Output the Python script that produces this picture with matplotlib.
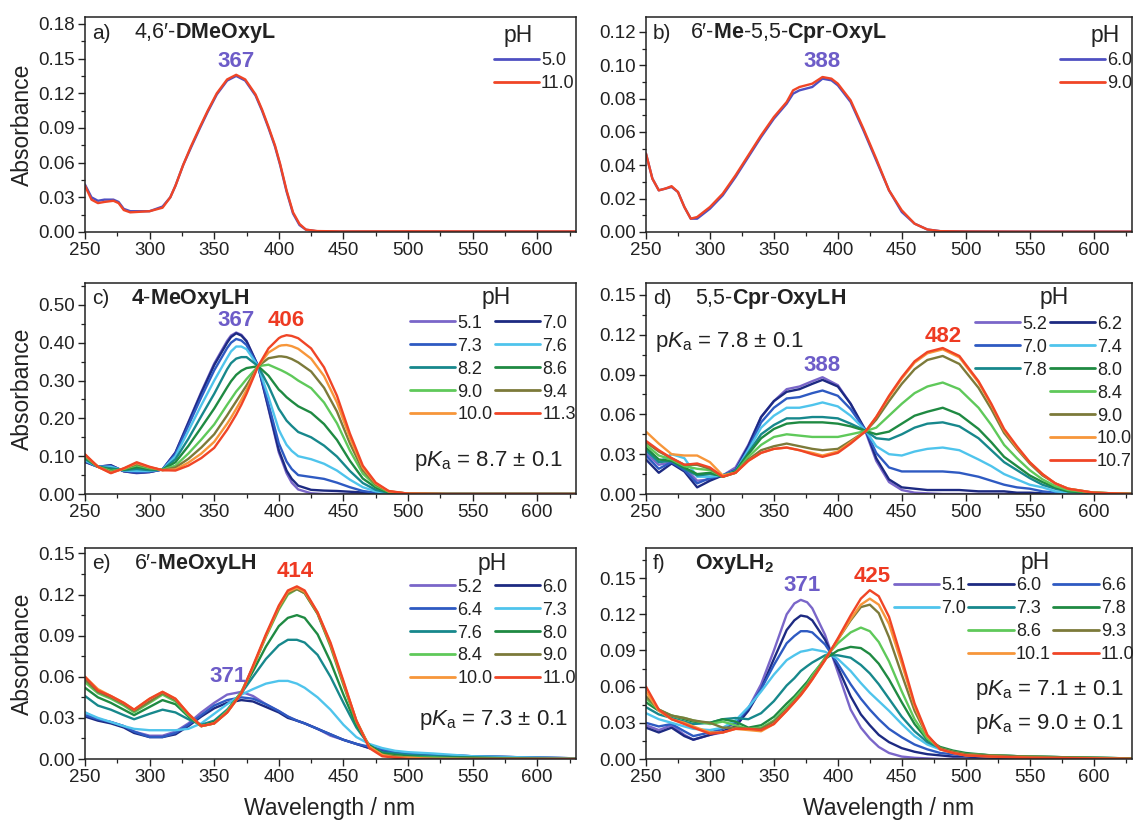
import matplotlib
matplotlib.use("Agg")
import matplotlib.pyplot as plt
from matplotlib.ticker import MultipleLocator, FormatStrFormatter
from matplotlib.lines import Line2D

plt.rcParams['font.family'] = ['Liberation Sans', 'DejaVu Sans']
plt.rcParams['mathtext.fontset'] = 'custom'
plt.rcParams['mathtext.rm'] = 'Liberation Sans'
plt.rcParams['mathtext.bf'] = 'Liberation Sans:bold'
plt.rcParams['mathtext.it'] = 'Liberation Sans:italic'
plt.rcParams['mathtext.sf'] = 'Liberation Sans'

# ---------------- data ----------------
# panel a: 4,6'-DMeOxyL
wl_a = [250, 255, 260, 265, 272, 276, 280, 285, 300, 310, 316, 320, 326, 332, 339, 345, 352, 360, 367, 374,
        382, 387, 392, 397, 401, 406, 411, 416, 421, 430, 450, 500, 550, 600, 630]
a_ph50 = [0.041, 0.030, 0.027, 0.028, 0.028, 0.026, 0.020, 0.018, 0.018, 0.022, 0.030, 0.040, 0.058, 0.073, 0.090,
          0.104, 0.119, 0.131, 0.135, 0.131, 0.118, 0.105, 0.090, 0.074, 0.058, 0.035, 0.016, 0.006, 0.002, 0.0005,
          0.0003, 0.0003, 0.0003, 0.0003, 0.0003]
a_ph110 = [0.040, 0.028, 0.025, 0.026, 0.027, 0.025, 0.019, 0.017, 0.018, 0.021, 0.030, 0.040, 0.058, 0.074, 0.091,
           0.105, 0.120, 0.132, 0.136, 0.132, 0.119, 0.106, 0.091, 0.075, 0.059, 0.036, 0.017, 0.007, 0.002, 0.0008,
           0.0005, 0.0006, 0.0005, 0.0005, 0.0005]
a_labels = ["5.0", "11.0"]

# panel b: 6'-Me-5,5-Cpr-OxyL
wl_b = [250, 255, 260, 265, 270, 275, 280, 285, 290, 300, 310, 320, 330, 340, 350, 360, 365, 370, 380, 388,
        395, 400, 410, 420, 430, 440, 450, 460, 470, 480, 500, 550, 600, 630]
b_ph60 = [0.047, 0.032, 0.025, 0.026, 0.027, 0.024, 0.015, 0.008, 0.008, 0.014, 0.022, 0.033, 0.045, 0.057, 0.068,
          0.077, 0.083, 0.085, 0.087, 0.092, 0.091, 0.088, 0.078, 0.061, 0.043, 0.025, 0.012, 0.005, 0.0015, 0.0005,
          0.0003, 0.0002, 0.0002, 0.0002]
b_ph90 = [0.047, 0.032, 0.025, 0.026, 0.0275, 0.024, 0.015, 0.008, 0.009, 0.015, 0.023, 0.034, 0.046, 0.058, 0.069,
          0.078, 0.085, 0.087, 0.089, 0.093, 0.092, 0.089, 0.079, 0.062, 0.044, 0.025, 0.013, 0.005, 0.0015, 0.0005,
          0.0003, 0.0002, 0.0002, 0.0002]
b_labels = ["6.0", "9.0"]

# panel c: 4-MeOxyLH
wl_c = [250, 260, 270, 280, 290, 300, 310, 320, 330, 340, 350, 360, 363, 367, 371, 375, 384, 392, 400, 402,
        406, 410, 415, 425, 435, 445, 455, 465, 475, 485, 500, 530, 630]
c_ph51 = [.085, .072, .076, .060, .055, .058, .065, .110, .190, .270, .345, .405, .419, .427, .421, .405, .338, .225,
          .110, .092, .055, .030, .012, .002, 0, 0, 0, 0, 0, 0, 0, 0, 0]
c_ph70 = [.085, .072, .076, .060, .056, .058, .065, .109, .188, .267, .341, .400, .415, .425, .419, .404, .338, .228,
          .116, .098, .062, .040, .022, .011, .009, .008, .006, .004, .002, .001, 0, 0, 0]
c_ph73 = [.087, .072, .074, .061, .057, .059, .065, .106, .181, .256, .327, .386, .400, .410, .406, .394, .338, .238,
          .134, .118, .086, .066, .050, .045, .040, .030, .018, .008, .003, .001, 0, 0, 0]
c_ph76 = [.089, .072, .072, .062, .061, .061, .065, .100, .167, .235, .300, .360, .377, .390, .390, .383, .338, .257,
          .170, .156, .130, .114, .100, .092, .080, .062, .038, .018, .007, .002, 0, 0, 0]
c_ph82 = [.093, .072, .068, .063, .066, .063, .064, .092, .146, .206, .265, .330, .346, .358, .362, .362, .338, .286,
          .225, .215, .194, .180, .164, .150, .128, .099, .061, .029, .011, .003, 0, 0, 0]
c_ph86 = [.096, .072, .064, .064, .071, .066, .064, .084, .127, .176, .226, .282, .298, .315, .326, .333, .338, .313,
          .276, .270, .256, .245, .232, .215, .185, .143, .088, .041, .017, .004, .001, 0, 0]
c_ph90 = [.099, .072, .061, .066, .076, .068, .064, .075, .107, .144, .184, .236, .251, .271, .287, .304, .338, .342,
          .330, .327, .320, .312, .300, .280, .242, .187, .115, .054, .022, .006, .001, 0, 0]
c_ph94 = [.102, .072, .058, .067, .079, .070, .063, .070, .093, .123, .158, .208, .224, .245, .266, .287, .338, .359,
          .364, .364, .362, .357, .348, .324, .281, .218, .134, .063, .025, .007, .001, 0, 0]
c_ph100 = [.104, .072, .056, .067, .082, .071, .063, .065, .083, .107, .138, .186, .202, .225, .249, .275, .338, .374,
           .391, .393, .394, .391, .384, .358, .312, .242, .149, .070, .028, .007, .001, 0, 0]
c_ph113 = [.105, .072, .055, .068, .084, .072, .063, .062, .075, .095, .122, .170, .187, .210, .236, .265, .338, .385,
           .412, .416, .420, .418, .412, .385, .335, .260, .160, .075, .030, .008, .001, 0, 0]
c_labels = ["5.1", "7.0", "7.3", "7.6", "8.2", "8.6", "9.0", "9.4", "10.0", "11.3"]

# panel d: 5,5-Cpr-OxyLH
wl_d = [250, 260, 270, 280, 290, 300, 310, 320, 330, 340, 350, 360, 370, 380, 388, 400, 410, 422, 430, 440,
        450, 460, 470, 482, 495, 510, 520, 530, 540, 550, 560, 570, 580, 600, 630]
d_ph52 = [.031, .022, .024, .020, .010, .011, .014, .020, .037, .058, .070, .079, .081, .085, .088, .082, .068, .046,
          .025, .009, .003, .001, .0005, 0, 0, 0, 0, 0, 0, 0, 0, 0, 0, 0, 0]
d_ph62 = [.026, .016, .023, .017, .005, .010, .014, .018, .036, .058, .070, .077, .079, .083, .086, .081, .068, .0475,
          .027, .011, .005, .004, .003, .003, .003, .002, .002, .002, .001, .001, .0005, 0, 0, 0, 0]
d_ph70 = [.029, .019, .024, .018, .008, .012, .014, .018, .034, .054, .065, .072, .073, .076, .078, .074, .064, .0475,
          .031, .020, .017, .017, .017, .017, .016, .013, .010, .007, .005, .004, .002, .001, .001, 0, 0]
d_ph74 = [.033, .024, .030, .027, .013, .013, .014, .017, .033, .050, .059, .065, .065, .067, .069, .066, .059, .0475,
          .036, .030, .029, .032, .034, .035, .033, .026, .021, .015, .011, .007, .005, .002, .001, 0, 0]
d_ph78 = [.033, .024, .025, .019, .014, .015, .014, .017, .031, .045, .052, .057, .057, .058, .058, .057, .053, .0475,
          .042, .041, .045, .050, .053, .054, .051, .042, .033, .024, .018, .012, .007, .004, .002, .0005, 0]
d_ph80 = [.035, .026, .025, .020, .015, .016, .013, .017, .030, .042, .049, .053, .054, .054, .054, .053, .051, .0475,
          .045, .047, .053, .059, .062, .065, .060, .049, .039, .028, .021, .014, .009, .005, .002, .001, 0]
d_ph84 = [.037, .029, .026, .021, .019, .018, .013, .016, .028, .037, .043, .045, .044, .043, .043, .043, .045, .0475,
          .050, .059, .068, .076, .081, .084, .079, .065, .052, .037, .027, .018, .011, .006, .003, .001, 0]
d_ph90 = [.039, .032, .027, .022, .022, .019, .013, .016, .026, .033, .036, .038, .036, .034, .033, .034, .040, .0475,
          .056, .070, .083, .094, .101, .104, .098, .080, .064, .046, .034, .023, .014, .008, .004, .001, 0]
d_ph100 = [.047, .038, .030, .029, .029, .024, .014, .016, .025, .031, .034, .035, .033, .031, .029, .032, .039, .0475,
           .058, .073, .087, .099, .106, .109, .103, .084, .067, .048, .035, .024, .015, .008, .004, .001, 0]
d_ph107 = [.040, .033, .027, .022, .023, .020, .013, .016, .025, .031, .034, .035, .033, .030, .028, .031, .038, .0475,
           .058, .074, .088, .100, .107, .110, .104, .085, .068, .049, .036, .024, .015, .008, .004, .001, 0]
d_labels = ["5.2", "6.2", "7.0", "7.4", "7.8", "8.0", "8.4", "9.0", "10.0", "10.7"]

# panel e: 6'-MeOxyLH
wl_e = [250, 260, 270, 280, 288, 300, 310, 320, 330, 340, 350, 360, 371, 380, 390, 400, 407, 414, 420, 430,
        440, 450, 460, 470, 480, 490, 500, 520, 550, 600, 630]
e_ph52 = [.034, .029, .027, .024, .020, .017, .017, .020, .026, .034, .041, .047, .049, .046, .040, .035, .031, .028,
          .026, .022, .017, .014, .011, .008, .006, .005, .004, .003, .002, .001, .0005]
e_ph60 = [.031, .028, .026, .023, .019, .016, .016, .018, .024, .031, .037, .041, .043, .042, .038, .034, .030, .028,
          .026, .022, .018, .014, .011, .008, .006, .005, .004, .003, .002, .001, .0005]
e_ph64 = [.032, .029, .027, .024, .020, .016, .016, .019, .025, .032, .039, .043, .045, .044, .040, .035, .031, .028,
          .026, .022, .018, .014, .011, .009, .007, .005, .004, .003, .002, .001, .0005]
e_ph73 = [.034, .030, .027, .024, .022, .021, .021, .021, .022, .026, .033, .040, .047, .051, .055, .057, .057, .055,
          .052, .045, .036, .025, .016, .011, .008, .006, .005, .004, .002, .001, .0005]
e_ph76 = [.046, .039, .036, .032, .029, .033, .036, .034, .029, .025, .028, .036, .048, .060, .073, .083, .087, .087,
          .085, .076, .060, .041, .023, .010, .005, .004, .003, .002, .001, .0005, 0]
e_ph80 = [.052, .045, .041, .036, .032, .038, .043, .040, .031, .024, .027, .035, .049, .064, .082, .097, .103, .105,
          .103, .091, .071, .047, .025, .010, .004, .003, .002, .001, .001, 0, 0]
e_ph84 = [.056, .048, .044, .039, .034, .041, .047, .042, .032, .024, .026, .035, .049, .067, .089, .109, .120, .124,
          .121, .106, .082, .054, .027, .009, .003, .002, .001, .001, 0, 0, 0]
e_ph90 = [.058, .049, .045, .040, .035, .042, .048, .043, .033, .024, .026, .034, .048, .067, .090, .110, .121, .124,
          .121, .106, .083, .055, .028, .009, .003, .002, .001, 0, 0, 0, 0]
e_ph100 = [.060, .051, .046, .041, .036, .044, .049, .044, .033, .024, .026, .034, .048, .067, .090, .111, .122, .125,
           .122, .107, .084, .056, .028, .009, .003, .001, .001, 0, 0, 0, 0]
e_ph110 = [.060, .050, .046, .041, .036, .044, .049, .044, .033, .024, .026, .034, .048, .068, .091, .112, .123, .126,
           .123, .107, .085, .057, .028, .008, .002, .001, 0, 0, 0, 0, 0]
e_labels = ["5.2", "6.0", "6.4", "7.3", "7.6", "8.0", "8.4", "9.0", "10.0", "11.0"]

# panel f: OxyLH2
wl_f = [250, 260, 270, 280, 287, 300, 310, 320, 330, 340, 350, 360, 366, 371, 376, 380, 390, 400, 410, 418,
        425, 432, 440, 450, 460, 470, 480, 490, 500, 520, 550, 600, 630]
f_ph51 = [.028, .024, .028, .020, .016, .020, .022, .026, .042, .062, .090, .120, .129, .132, .130, .125, .103, .072,
          .041, .026, .017, .010, .005, .002, .001, .0005, 0, 0, 0, 0, 0, 0, 0]
f_ph60 = [.026, .022, .026, .019, .016, .020, .023, .027, .040, .058, .083, .107, .115, .119, .118, .115, .099, .076,
          .052, .037, .028, .020, .014, .009, .006, .004, .003, .002, .002, .001, .0005, 0, 0]
f_ph66 = [.030, .027, .029, .023, .019, .022, .025, .030, .042, .058, .078, .096, .102, .106, .106, .105, .095, .079,
          .062, .050, .041, .033, .025, .018, .012, .008, .005, .004, .003, .002, .001, .0005, 0]
f_ph70 = [.038, .033, .030, .027, .025, .024, .026, .032, .043, .056, .070, .082, .086, .089, .090, .091, .089, .083,
          .073, .063, .055, .048, .040, .029, .019, .012, .008, .006, .004, .003, .002, .001, .0005]
f_ph73 = [.043, .037, .034, .031, .029, .030, .033, .034, .033, .038, .048, .061, .067, .073, .077, .080, .086, .086,
          .084, .078, .071, .062, .050, .035, .023, .014, .009, .006, .004, .003, .002, .001, .0005]
f_ph78 = [.047, .040, .036, .033, .031, .030, .033, .031, .026, .028, .035, .046, .052, .058, .064, .070, .083, .090,
          .093, .092, .087, .079, .066, .047, .029, .016, .010, .007, .005, .003, .002, .001, .0005]
f_ph86 = [.050, .041, .036, .034, .032, .029, .031, .028, .025, .026, .032, .043, .050, .056, .062, .069, .084, .096,
          .105, .109, .106, .097, .081, .056, .033, .017, .009, .006, .004, .003, .002, .001, .0005]
f_ph93 = [.052, .041, .036, .034, .032, .030, .026, .026, .025, .025, .031, .041, .048, .054, .061, .067, .083, .099,
          .115, .126, .128, .121, .101, .070, .040, .019, .009, .006, .004, .003, .002, .001, .0005]
f_ph101 = [.056, .040, .033, .030, .027, .022, .022, .025, .024, .023, .029, .040, .047, .053, .060, .066, .082, .099,
           .116, .128, .133, .128, .112, .079, .044, .019, .008, .005, .003, .002, .001, .0005, 0]
f_ph110 = [.060, .041, .033, .029, .026, .021, .022, .025, .025, .024, .029, .040, .047, .053, .060, .066, .082, .100,
           .119, .133, .140, .135, .118, .083, .046, .020, .008, .005, .003, .002, .001, .0005, 0]
f_labels = ["5.1", "6.0", "6.6", "7.0", "7.3", "7.8", "8.6", "9.3", "10.1", "11.0"]

# ---------------- style ----------------
ramp = ['#7a66c9', '#1d2a82', '#2e5ac2', '#4fc4ec', '#17888c', '#1f8a42',
        '#5fc95a', '#7c7a3a', '#f7963a', '#f04526']
two = ['#4f50c2', '#f04526']
acid_col = '#6d5cc8'
base_col = '#ee3a22'
ink = '#222222'

W, H = 1134, 823
fig = plt.figure(figsize=(W / 100, H / 100), dpi=100)
fig.patch.set_facecolor('white')


def make_ax(left_px, right_px, top_px, bottom_px):
    return fig.add_axes([left_px / W, 1 - bottom_px / H, (right_px - left_px) / W, (bottom_px - top_px) / H])


axA = make_ax(85, 576, 17, 232)
axB = make_ax(646, 1132, 17, 232)
axC = make_ax(85, 576, 283, 494)
axD = make_ax(646, 1132, 283, 494)
axE = make_ax(85, 576, 548, 759)
axF = make_ax(646, 1132, 548, 759)


def setup(ax, ymax, ystep):
    ax.set_xlim(250, 630)
    ax.set_ylim(0, ymax)
    ax.xaxis.set_major_locator(MultipleLocator(50))
    ax.xaxis.set_minor_locator(MultipleLocator(25))
    ax.yaxis.set_major_locator(MultipleLocator(ystep))
    ax.yaxis.set_minor_locator(MultipleLocator(ystep / 2))
    ax.yaxis.set_major_formatter(FormatStrFormatter('%.2f'))
    ax.tick_params(which='major', direction='out', length=5, width=1.0, labelsize=13.5, pad=2,
                   colors=ink)
    ax.tick_params(which='minor', direction='out', length=3, width=0.9, colors=ink)
    for s in ax.spines.values():
        s.set_linewidth(1.1)
        s.set_color(ink)


def draw(ax, wl, series, labels, colors, lw=1.7):
    handles = []
    for vals, lab, col in zip(series, labels, colors):
        h, = ax.plot(wl, vals, color=col, lw=lw, label=lab, solid_joinstyle='round',
                     solid_capstyle='round')
        handles.append(h)
    return handles


def legend(ax, handles, labels, ncol, anchor, ph_xy):
    leg = ax.legend(handles, labels, ncol=ncol, loc='upper right', bbox_to_anchor=anchor,
                    frameon=False, fontsize=13,
                    handlelength=2.5, handletextpad=0.12, columnspacing=0.15,
                    labelspacing=0.33, borderpad=0, borderaxespad=0)
    for t in leg.get_texts():
        t.set_color(ink)
    for line in leg.get_lines():
        line.set_linewidth(2.0)
    ax.text(ph_xy[0], ph_xy[1], 'pH', transform=ax.transAxes, fontsize=16.5, ha='center',
            va='center', color=ink)
    return leg


blank = Line2D([], [], alpha=0)


def titles(ax, letter, name, x_name):
    ax.text(0.014, 0.925, letter, transform=ax.transAxes, fontsize=15, va='center', ha='left', color=ink)
    ax.text(x_name, 0.925, name, transform=ax.transAxes, fontsize=15.5, va='center', ha='left', color=ink)


def pka(ax, x, y, val, ha='right'):
    ax.text(x, y, r'p$K_\mathrm{a}$ = ' + val + ' \u00b1 0.1', transform=ax.transAxes,
            fontsize=16, ha=ha, va='center', color=ink)


def peak(ax, x, y, txt, col):
    ax.text(x, y, txt, color=col, fontsize=16, fontweight='bold', ha='center', va='center')


# ---- a ----
setup(axA, 0.186, 0.03)
hA = draw(axA, wl_a, [a_ph50, a_ph110], a_labels, two)
legend(axA, hA, a_labels, 1, (0.997, 0.837), (0.882, 0.915))
titles(axA, 'a)', '4,6\u2032-$\\mathbf{DMeOxyL}$', 0.10)
peak(axA, 367, 0.1475, '367', acid_col)

# ---- b ----
setup(axB, 0.129, 0.02)
hB = draw(axB, wl_b, [b_ph60, b_ph90], b_labels, two)
legend(axB, hB, b_labels, 1, (1.0, 0.837), (0.944, 0.912))
titles(axB, 'b)', '6\u2032-$\\mathbf{Me}$-5,5-$\\mathbf{Cpr}$-$\\mathbf{OxyL}$', 0.09)
peak(axB, 388, 0.1025, '388', acid_col)

# ---- c ----
setup(axC, 0.558, 0.10)
c_series = [c_ph51, c_ph70, c_ph73, c_ph76, c_ph82, c_ph86, c_ph90, c_ph94, c_ph100, c_ph113]
hC = draw(axC, wl_c, c_series, c_labels, ramp)
order_c = [0, 2, 4, 6, 8, 1, 3, 5, 7, 9]
legend(axC, [hC[i] for i in order_c], [c_labels[i] for i in order_c], 2, (1.0, 0.85), (0.837, 0.932))
titles(axC, 'c)', '$\\mathbf{4}$-$\\mathbf{MeOxyLH}$', 0.094)
peak(axC, 367, 0.458, '367', acid_col)
peak(axC, 406, 0.458, '406', base_col)
pka(axC, 0.975, 0.155, '8.7')

# ---- d ----
setup(axD, 0.159, 0.03)
d_series = [d_ph52, d_ph62, d_ph70, d_ph74, d_ph78, d_ph80, d_ph84, d_ph90, d_ph100, d_ph107]
hD = draw(axD, wl_d, d_series, d_labels, ramp)
hd = [hD[0], hD[2], hD[4], blank, blank, blank, blank,
      hD[1], hD[3], hD[5], hD[6], hD[7], hD[8], hD[9]]
ld = [d_labels[0], d_labels[2], d_labels[4], '', '', '', '',
      d_labels[1], d_labels[3], d_labels[5], d_labels[6], d_labels[7], d_labels[8], d_labels[9]]
legend(axD, hd, ld, 2, (1.0, 0.845), (0.84, 0.932))
titles(axD, 'd)', '5,5-$\\mathbf{Cpr}$-$\\mathbf{OxyLH}$', 0.10)
peak(axD, 388, 0.097, '388', acid_col)
peak(axD, 482, 0.1185, '482', base_col)
pka(axD, 0.018, 0.72, '7.8', ha='left')

# ---- e ----
setup(axE, 0.154, 0.03)
e_series = [e_ph52, e_ph60, e_ph64, e_ph73, e_ph76, e_ph80, e_ph84, e_ph90, e_ph100, e_ph110]
hE = draw(axE, wl_e, e_series, e_labels, ramp)
legend(axE, [hE[i] for i in order_c], [e_labels[i] for i in order_c], 2, (1.0, 0.855), (0.83, 0.925))
titles(axE, 'e)', '6\u2032-$\\mathbf{MeOxyLH}$', 0.10)
peak(axE, 361, 0.0605, '371', acid_col)
peak(axE, 413, 0.1367, '414', base_col)
pka(axE, 0.985, 0.185, '7.3')

# ---- f ----
setup(axF, 0.175, 0.03)
f_series = [f_ph51, f_ph60, f_ph66, f_ph70, f_ph73, f_ph78, f_ph86, f_ph93, f_ph101, f_ph110]
hF = draw(axF, wl_f, f_series, f_labels, ramp)
hf = [hF[0], hF[3], blank, blank, hF[1], hF[4], hF[6], hF[8], hF[2], hF[5], hF[7], hF[9]]
lf = [f_labels[0], f_labels[3], '', '', f_labels[1], f_labels[4], f_labels[6], f_labels[8],
      f_labels[2], f_labels[5], f_labels[7], f_labels[9]]
legend(axF, hf, lf, 3, (1.005, 0.862), (0.80, 0.93))
axF.text(0.014, 0.925, 'f)', transform=axF.transAxes, fontsize=15, va='center', ha='left', color=ink)
axF.text(0.10, 0.925, '$\\mathbf{OxyLH_2}$', transform=axF.transAxes, fontsize=15.5, va='center', ha='left',
         color=ink)
peak(axF, 372, 0.144, '371', acid_col)
peak(axF, 427, 0.1514, '425', base_col)
pka(axF, 0.985, 0.325, '7.1')
pka(axF, 0.985, 0.165, '9.0')

# axis labels
for top_px, bot_px in [(17, 232), (283, 494), (548, 759)]:
    fig.text(22 / W, 1 - (top_px + bot_px) / 2 / H, 'Absorbance', rotation=90, fontsize=16.5,
             ha='center', va='center', color=ink)
fig.text(330 / W, 1 - 808 / H, 'Wavelength / nm', fontsize=16.5, ha='center', va='center', color=ink)
fig.text(889 / W, 1 - 808 / H, 'Wavelength / nm', fontsize=16.5, ha='center', va='center', color=ink)

fig.savefig('out.png', dpi=100, facecolor='white')
